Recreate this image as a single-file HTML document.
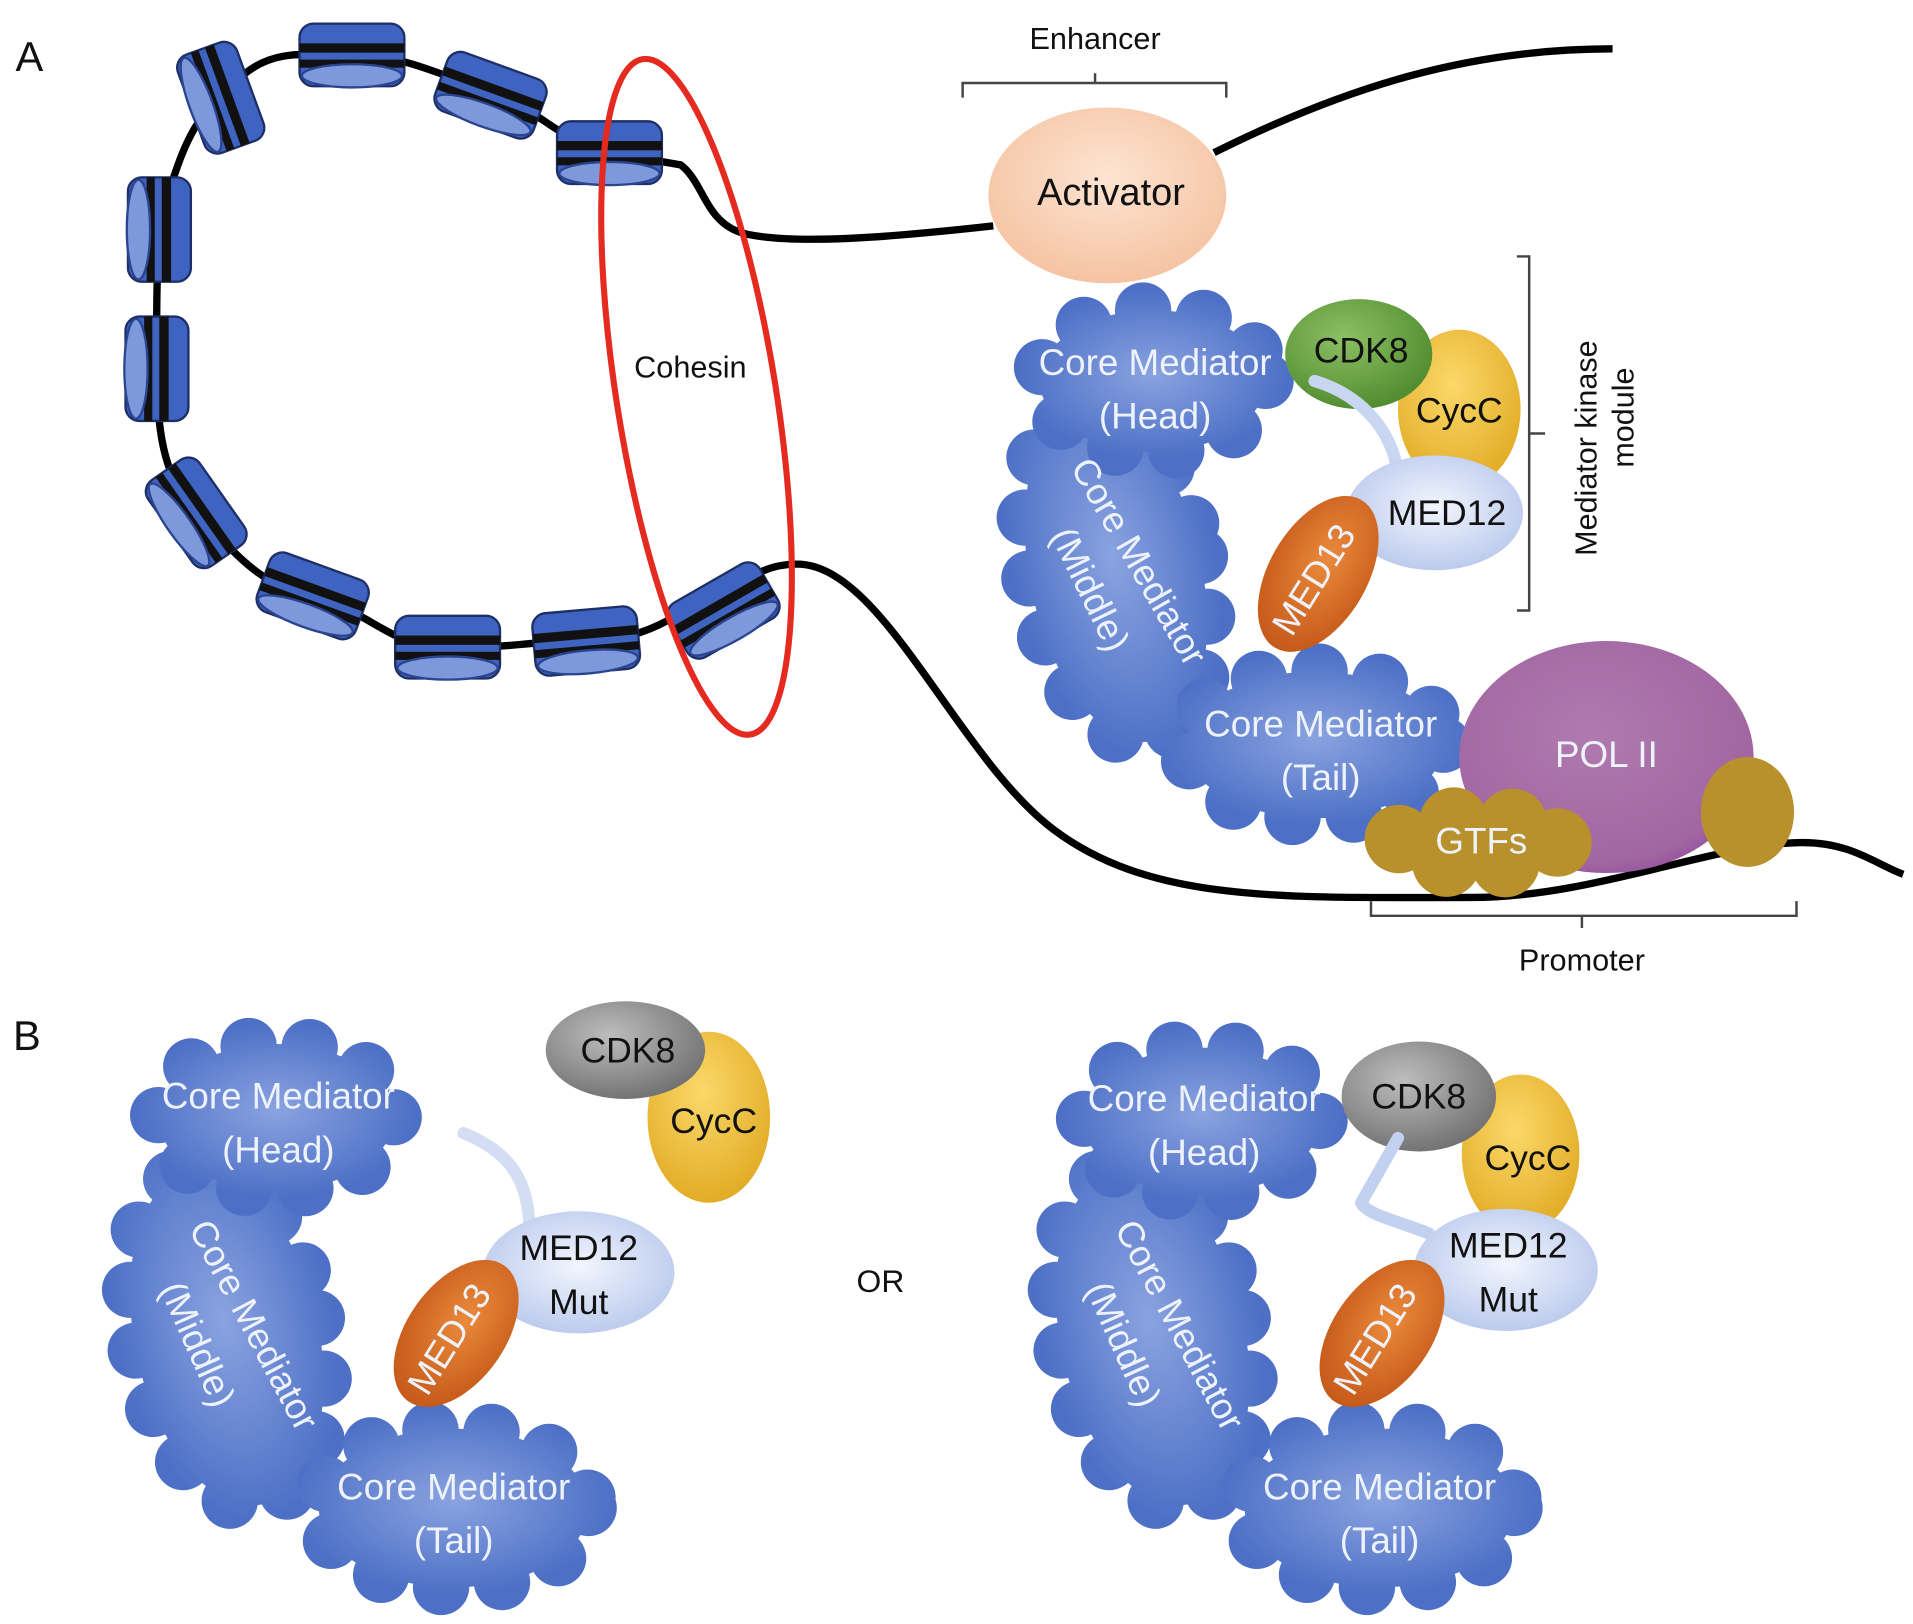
<!DOCTYPE html>
<html><head><meta charset="utf-8"><style>
html,body{margin:0;padding:0;background:#fff;}
svg{display:block;}
text{font-family:"Liberation Sans",sans-serif;}
.w{fill:#eef2fb;font-size:30px;text-anchor:middle;}
.k{fill:#111;font-size:29px;text-anchor:middle;}
.s{fill:#111;font-size:25px;text-anchor:middle;}
.cl{stroke-width:46;stroke-dasharray:0 50;stroke-linecap:round;}
</style></head><body>
<svg width="1913" height="1624" viewBox="0 0 1560 1330" preserveAspectRatio="none" xmlns="http://www.w3.org/2000/svg">
<defs>
<radialGradient id="bl" cx="0.5" cy="0.45" r="0.6"><stop offset="0" stop-color="#8aa3e0"/><stop offset="1" stop-color="#4d70c6"/></radialGradient>
<radialGradient id="act" cx="0.5" cy="0.4" r="0.6"><stop offset="0" stop-color="#fde4d2"/><stop offset="1" stop-color="#f5c3a2"/></radialGradient>
<radialGradient id="grn" cx="0.4" cy="0.35" r="0.7"><stop offset="0" stop-color="#8cc063"/><stop offset="1" stop-color="#4f8a2e"/></radialGradient>
<radialGradient id="gry" cx="0.4" cy="0.35" r="0.7"><stop offset="0" stop-color="#bdbdbd"/><stop offset="1" stop-color="#6f6f6f"/></radialGradient>
<radialGradient id="yel" cx="0.45" cy="0.35" r="0.7"><stop offset="0" stop-color="#fbd86a"/><stop offset="1" stop-color="#e0a921"/></radialGradient>
<radialGradient id="m12" cx="0.5" cy="0.45" r="0.6"><stop offset="0" stop-color="#f2f5fd"/><stop offset="1" stop-color="#b7c7ec"/></radialGradient>
<radialGradient id="org" cx="0.5" cy="0.4" r="0.6"><stop offset="0" stop-color="#ea8a3c"/><stop offset="1" stop-color="#c65a1a"/></radialGradient>
<radialGradient id="pur" cx="0.45" cy="0.4" r="0.7"><stop offset="0" stop-color="#b07ab0"/><stop offset="0.8" stop-color="#a166a0"/><stop offset="1" stop-color="#8a3fa0"/></radialGradient>
<g id="nuc">
<rect x="-45" y="-27" width="90" height="54" rx="12" fill="#3f63c0" stroke="#1d2f66" stroke-width="2"/>
<rect x="-45" y="-10" width="90" height="8" fill="#111"/>
<rect x="-45" y="4" width="90" height="7" fill="#111"/>
<ellipse cx="0" cy="18" rx="43" ry="10" fill="#7d99dc" stroke="#2a4490" stroke-width="2"/>
</g>
</defs>

<text x="24" y="58" style="font-size:34px;fill:#111;text-anchor:middle">A</text>
<text x="22" y="860" style="font-size:34px;fill:#111;text-anchor:middle">B</text>

<path d="M1315 40 C1200 40 1100 70 990 125 M810 185 C720 195 650 200 610 192 C575 185 575 150 555 135 L497 125 C460 118 440 90 400 75 C360 62 330 45 287 45 C250 45 225 40 200 60 C160 90 150 120 140 150 C125 200 128 250 128 300 C128 350 132 390 160 420 C190 450 210 480 255 488 C300 500 320 530 360 530 C410 532 430 525 475 525 C520 525 540 510 560 500 C600 490 610 462 650 462 C720 462 780 620 860 680 C940 740 1050 735 1200 735 C1300 735 1400 690 1470 690 C1510 690 1530 708 1552 716" fill="none" stroke="#000" stroke-width="6"/>

<use href="#nuc" transform="translate(180,80) rotate(70) scale(0.95)"/>
<use href="#nuc" transform="translate(287,45) rotate(0) scale(0.95)"/>
<use href="#nuc" transform="translate(400,78) rotate(20) scale(0.95)"/>
<use href="#nuc" transform="translate(497,125) rotate(0) scale(0.95)"/>
<use href="#nuc" transform="translate(130,188) rotate(90) scale(0.95)"/>
<use href="#nuc" transform="translate(128,302) rotate(90) scale(0.95)"/>
<use href="#nuc" transform="translate(160,420) rotate(55) scale(0.95)"/>
<use href="#nuc" transform="translate(255,488) rotate(20) scale(0.95)"/>
<use href="#nuc" transform="translate(365,530) rotate(0) scale(0.95)"/>
<use href="#nuc" transform="translate(478,525) rotate(-5) scale(0.95)"/>
<use href="#nuc" transform="translate(590,500) rotate(-30) scale(0.95)"/>

<ellipse cx="568" cy="325" rx="65" ry="280" transform="rotate(-9 568 325)" fill="none" stroke="#e52b20" stroke-width="5"/>
<text x="563" y="309" class="k" style="font-size:25px">Cohesin</text>

<path d="M785 80 L785 68 L1000 68 L1000 80 M893 68 L893 60" fill="none" stroke="#444" stroke-width="2"/>
<text x="893" y="40" class="s">Enhancer</text>
<ellipse cx="903" cy="160" rx="97" ry="72" fill="url(#act)"/>
<text x="906" y="168" class="k" style="font-size:31px">Activator</text>

<ellipse cx="910" cy="470" rx="70" ry="140" transform="rotate(-12 910 470)" fill="url(#bl)" stroke="url(#bl)" class="cl"/>
<ellipse cx="940" cy="312" rx="92" ry="58" fill="url(#bl)" stroke="url(#bl)" class="cl"/>
<ellipse cx="1072" cy="610" rx="105" ry="60" fill="url(#bl)" stroke="url(#bl)" class="cl"/>
<text x="942" y="307" class="w">Core Mediator</text>
<text x="942" y="351" class="w">(Head)</text>
<text x="1077" y="603" class="w">Core Mediator</text>
<text x="1077" y="647" class="w">(Tail)</text>
<text transform="translate(920,465) rotate(60)" class="w">Core Mediator</text>
<text transform="translate(880,487) rotate(64)" class="w">(Middle)</text>

<ellipse cx="1310" cy="620" rx="120" ry="95" fill="url(#pur)"/>
<ellipse cx="1425" cy="665" rx="38" ry="45" fill="#b8902c"/>
<ellipse cx="1205" cy="690" rx="65" ry="18" fill="#b8902c" stroke="#b8902c" class="cl" style="stroke-width:56;stroke-dasharray:0 48"/>
<text x="1310" y="628" class="w">POL II</text>
<text x="1208" y="699" class="w">GTFs</text>
<path d="M1118 738 L1118 750 L1465 750 L1465 738 M1290 750 L1290 760" fill="none" stroke="#444" stroke-width="2"/>
<text x="1290" y="795" class="s">Promoter</text>

<ellipse cx="1190" cy="335" rx="50" ry="65" fill="url(#yel)"/>
<ellipse cx="1108" cy="290" rx="60" ry="45" fill="url(#grn)"/>
<path d="M1072 312 C1115 325 1140 360 1140 395" fill="none" stroke="#c9d6f2" stroke-width="10" stroke-linecap="round"/>
<ellipse cx="1170" cy="420" rx="72" ry="47" fill="url(#m12)"/>
<ellipse cx="1075" cy="470" rx="40" ry="70" transform="rotate(30 1075 470)" fill="url(#org)"/>
<text x="1110" y="297" class="k">CDK8</text>
<text x="1190" y="346" class="k">CycC</text>
<text x="1180" y="430" class="k">MED12</text>
<text transform="translate(1080,480) rotate(-58)" class="w">MED13</text>
<path d="M1237 210 L1247 210 L1247 500 L1237 500 M1247 355 L1260 355" fill="none" stroke="#444" stroke-width="2"/>
<text transform="translate(1302,367) rotate(-90)" class="s">Mediator kinase</text>
<text transform="translate(1332,342) rotate(-90)" class="s">module</text>

<ellipse cx="185" cy="1095" rx="75" ry="140" transform="rotate(-12 185 1095)" fill="url(#bl)" stroke="url(#bl)" class="cl"/>
<ellipse cx="225" cy="915" rx="96" ry="60" fill="url(#bl)" stroke="url(#bl)" class="cl"/>
<ellipse cx="370" cy="1235" rx="110" ry="65" fill="url(#bl)" stroke="url(#bl)" class="cl"/>
<text x="227" y="908" class="w">Core Mediator</text>
<text x="227" y="952" class="w">(Head)</text>
<text x="370" y="1228" class="w">Core Mediator</text>
<text x="370" y="1272" class="w">(Tail)</text>
<text transform="translate(198,1090) rotate(62)" class="w">Core Mediator</text>
<text transform="translate(152,1105) rotate(66)" class="w">(Middle)</text>
<ellipse cx="578" cy="915" rx="50" ry="70" fill="url(#yel)"/>
<ellipse cx="510" cy="860" rx="65" ry="40" fill="url(#gry)"/>
<path d="M378 928 C420 945 430 970 432 1005" fill="none" stroke="#d3ddf4" stroke-width="10" stroke-linecap="round"/>
<ellipse cx="472" cy="1042" rx="78" ry="50" fill="url(#m12)"/>
<ellipse cx="372" cy="1092" rx="40" ry="68" transform="rotate(35 372 1092)" fill="url(#org)"/>
<text x="512" y="870" class="k">CDK8</text>
<text x="582" y="928" class="k">CycC</text>
<text x="472" y="1032" class="k">MED12</text>
<text x="472" y="1076" class="k">Mut</text>
<text transform="translate(375,1102) rotate(-58)" class="w">MED13</text>

<text x="718" y="1058" class="k" style="font-size:26px">OR</text>

<ellipse cx="940" cy="1095" rx="75" ry="140" transform="rotate(-12 940 1095)" fill="url(#bl)" stroke="url(#bl)" class="cl"/>
<ellipse cx="980" cy="918" rx="96" ry="60" fill="url(#bl)" stroke="url(#bl)" class="cl"/>
<ellipse cx="1125" cy="1235" rx="110" ry="65" fill="url(#bl)" stroke="url(#bl)" class="cl"/>
<text x="982" y="910" class="w">Core Mediator</text>
<text x="982" y="954" class="w">(Head)</text>
<text x="1125" y="1228" class="w">Core Mediator</text>
<text x="1125" y="1272" class="w">(Tail)</text>
<text transform="translate(953,1090) rotate(62)" class="w">Core Mediator</text>
<text transform="translate(907,1105) rotate(66)" class="w">(Middle)</text>
<ellipse cx="1240" cy="945" rx="48" ry="65" fill="url(#yel)"/>
<ellipse cx="1157" cy="898" rx="63" ry="45" fill="url(#gry)"/>
<path d="M1140 932 L1110 985 C1115 995 1140 1000 1165 1010" fill="none" stroke="#c3d1f0" stroke-width="10" stroke-linecap="round" stroke-linejoin="round"/>
<ellipse cx="1228" cy="1040" rx="75" ry="50" fill="url(#m12)"/>
<ellipse cx="1127" cy="1092" rx="40" ry="68" transform="rotate(35 1127 1092)" fill="url(#org)"/>
<text x="1157" y="908" class="k">CDK8</text>
<text x="1246" y="958" class="k">CycC</text>
<text x="1230" y="1030" class="k">MED12</text>
<text x="1230" y="1074" class="k">Mut</text>
<text transform="translate(1130,1102) rotate(-58)" class="w">MED13</text>
</svg>
</body></html>
